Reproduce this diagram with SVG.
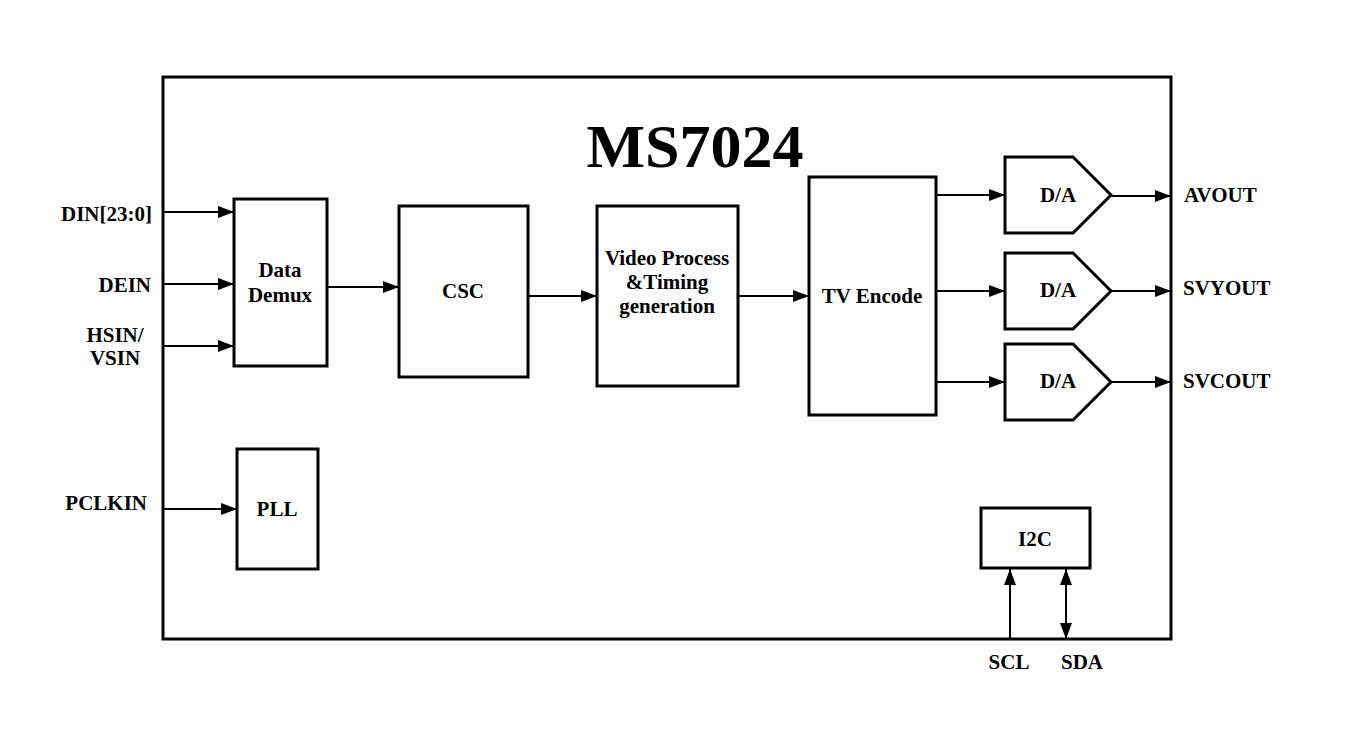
<svg xmlns="http://www.w3.org/2000/svg" width="1358" height="730" viewBox="0 0 1358 730">
<defs>
<marker id="ah" markerUnits="userSpaceOnUse" markerWidth="16" markerHeight="12" refX="16" refY="6" orient="auto">
<path d="M0,0 L16,6 L0,12 Z" fill="#000"/>
</marker>
<marker id="as" markerUnits="userSpaceOnUse" markerWidth="16" markerHeight="12" refX="0" refY="6" orient="auto">
<path d="M16,0 L0,6 L16,12 Z" fill="#000"/>
</marker>
<style>
.box{fill:#fff;stroke:#000;stroke-width:3}
.ln{fill:none;stroke:#000;stroke-width:2}
text{font-family:"Liberation Serif","Times New Roman",serif;font-weight:bold;font-size:21px;fill:#000}
.c{text-anchor:middle}
.r{text-anchor:end}
</style>
</defs>
<rect width="1358" height="730" fill="#fff"/>
<g id="chip">
<rect x="163" y="77" width="1008" height="562" fill="none" stroke="#000" stroke-width="3"/>
<text x="695" y="167" class="c" style="font-size:62px">MS7024</text>
</g>
<g id="connectors">
<line class="ln" x1="163" y1="212" x2="234" y2="212" marker-end="url(#ah)"/>
<line class="ln" x1="163" y1="284" x2="234" y2="284" marker-end="url(#ah)"/>
<line class="ln" x1="163" y1="346" x2="234" y2="346" marker-end="url(#ah)"/>
<line class="ln" x1="163" y1="509" x2="237" y2="509" marker-end="url(#ah)"/>
<line class="ln" x1="328" y1="287" x2="399" y2="287" marker-end="url(#ah)"/>
<line class="ln" x1="529" y1="296" x2="597" y2="296" marker-end="url(#ah)"/>
<line class="ln" x1="739" y1="296" x2="809" y2="296" marker-end="url(#ah)"/>
<line class="ln" x1="937" y1="195" x2="1005" y2="195" marker-end="url(#ah)"/>
<line class="ln" x1="937" y1="291" x2="1005" y2="291" marker-end="url(#ah)"/>
<line class="ln" x1="937" y1="382" x2="1005" y2="382" marker-end="url(#ah)"/>
<line class="ln" x1="1111" y1="196" x2="1171" y2="196" marker-end="url(#ah)"/>
<line class="ln" x1="1111" y1="291" x2="1171" y2="291" marker-end="url(#ah)"/>
<line class="ln" x1="1111" y1="382" x2="1171" y2="382" marker-end="url(#ah)"/>
<line class="ln" x1="1010" y1="639" x2="1010" y2="569" marker-end="url(#ah)"/>
<line class="ln" x1="1066" y1="639" x2="1066" y2="569" marker-start="url(#as)" marker-end="url(#ah)"/>
</g>
<g id="demux">
<rect class="box" x="234" y="199" width="93" height="167"/>
<text x="280" y="277" class="c">Data</text>
<text x="280" y="302" class="c">Demux</text>
</g>
<g id="csc">
<rect class="box" x="399" y="206" width="129" height="171"/>
<text x="463" y="298" class="c">CSC</text>
</g>
<g id="video">
<rect class="box" x="597" y="206" width="141" height="180"/>
<text x="667" y="265" class="c">Video Process</text>
<text x="667" y="289" class="c">&amp;Timing</text>
<text x="667" y="313" class="c">generation</text>
</g>
<g id="tvenc">
<rect class="box" x="809" y="177" width="127" height="238"/>
<text x="872" y="303" class="c">TV Encode</text>
</g>
<g id="da1">
<path class="box" d="M1005,157 L1073,157 L1111,195 L1073,233 L1005,233 Z"/>
<text x="1058" y="202" class="c">D/A</text>
</g>
<g id="da2">
<path class="box" d="M1005,253 L1073,253 L1111,291 L1073,329 L1005,329 Z"/>
<text x="1058" y="297" class="c">D/A</text>
</g>
<g id="da3">
<path class="box" d="M1005,344 L1073,344 L1111,382 L1073,420 L1005,420 Z"/>
<text x="1058" y="388" class="c">D/A</text>
</g>
<g id="pll">
<rect class="box" x="237" y="449" width="81" height="120"/>
<text x="277" y="516" class="c">PLL</text>
</g>
<g id="i2c">
<rect class="box" x="981" y="508" width="109" height="60"/>
<text x="1035" y="546" class="c">I2C</text>
</g>
<g id="labels">
<text x="152" y="221" class="r">DIN[23:0]</text>
<text x="151" y="292" class="r">DEIN</text>
<text x="115" y="342" class="c">HSIN/</text>
<text x="115" y="365" class="c">VSIN</text>
<text x="147" y="510" class="r">PCLKIN</text>
<text x="1184" y="202">AVOUT</text>
<text x="1183" y="295">SVYOUT</text>
<text x="1183" y="388">SVCOUT</text>
<text x="1009" y="669" class="c">SCL</text>
<text x="1082" y="669" class="c">SDA</text>
</g>
</svg>
